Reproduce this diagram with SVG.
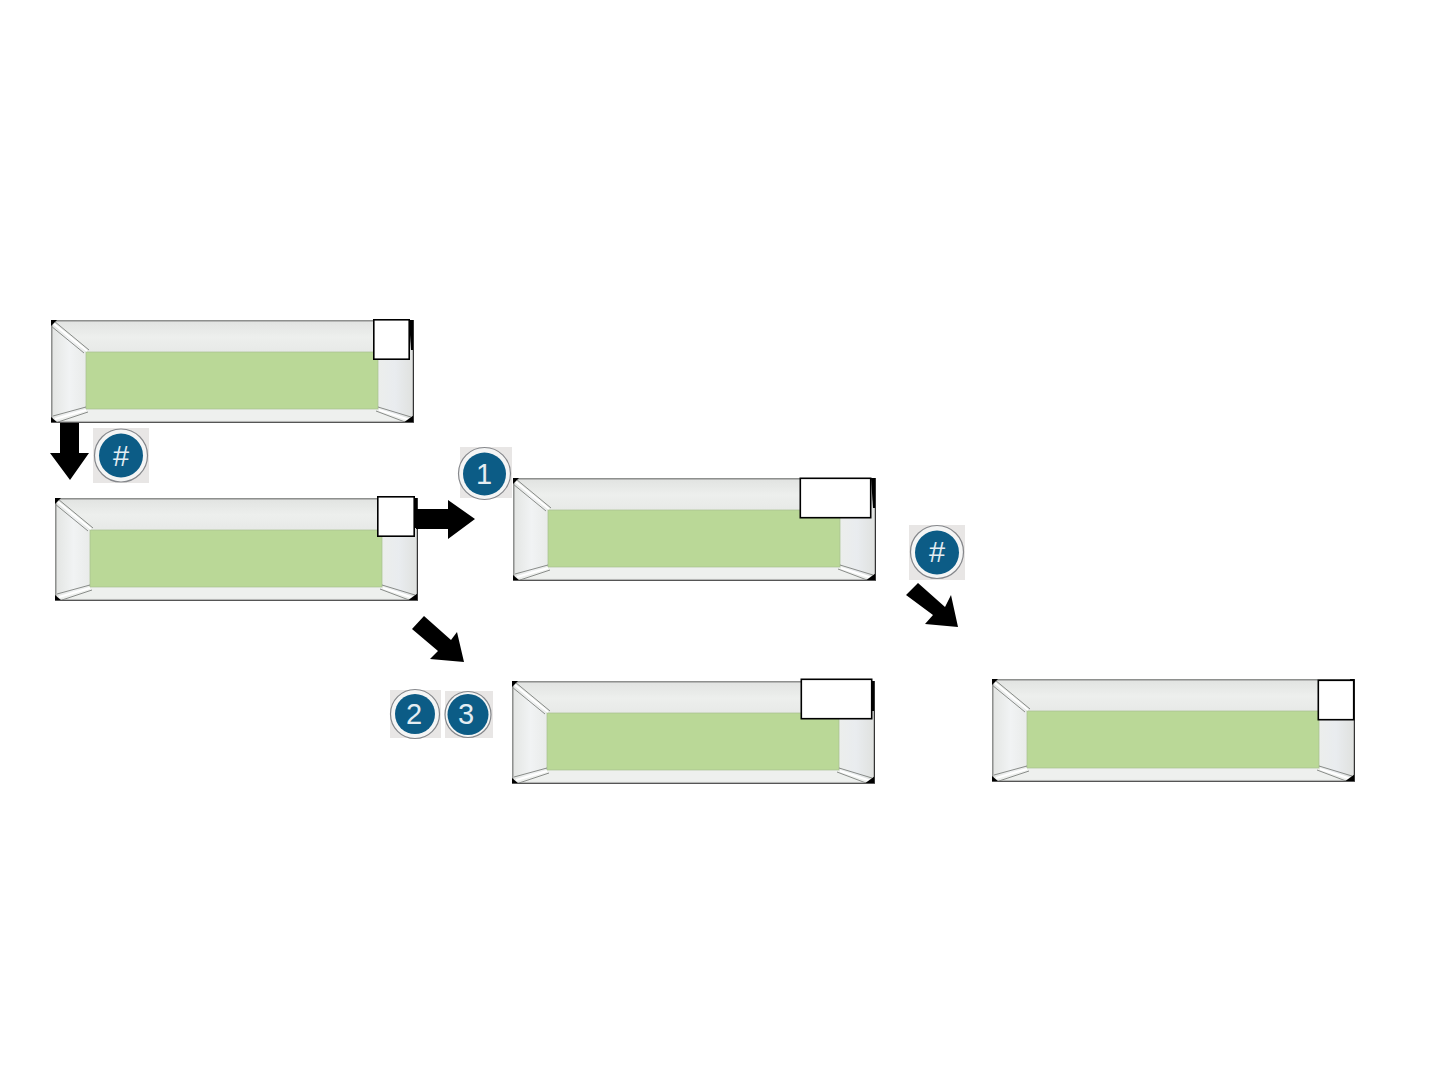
<svg xmlns="http://www.w3.org/2000/svg" width="1440" height="1080" viewBox="0 0 1440 1080">
<style>
.bevel{fill:#eaecea}
.green{fill:#bad897;stroke:#a6bf8f;stroke-width:.7}
.edge{fill:none;stroke:#8a8c8a;stroke-width:1.5}
.mitre{fill:none;stroke:#6f726f;stroke-width:.8}
.mitrew{fill:none;stroke:#fff;stroke-width:2}
.corner{fill:#000}
.box{fill:#fff;stroke:#000;stroke-width:1.6}
.arrow{fill:#000}
.badgebg{fill:#e8e6e5}
.ring{fill:#f4f5f5;stroke:#85878b;stroke-width:1.2}
.disc{fill:#0c5c86}
.num{fill:#e4edf2;font-family:"Liberation Sans",Arial,sans-serif;font-size:29px;text-anchor:middle}
</style>
<defs>
<linearGradient id="topg" x1="0" y1="0" x2="0" y2="1"><stop offset="0" stop-color="#e2e4e2"/><stop offset=".5" stop-color="#edefed"/><stop offset="1" stop-color="#e7e9e7"/></linearGradient>
<linearGradient id="leftg" x1="0" y1="0" x2="1" y2="0"><stop offset="0" stop-color="#e4e6e4"/><stop offset=".5" stop-color="#f1f3f4"/><stop offset="1" stop-color="#e9ebea"/></linearGradient>
<linearGradient id="rightg" x1="0" y1="0" x2="1" y2="0"><stop offset="0" stop-color="#eceeec"/><stop offset=".5" stop-color="#e9ecef"/><stop offset="1" stop-color="#e0e2e0"/></linearGradient>
<filter id="soft" x="-2%" y="-5%" width="104%" height="110%"><feGaussianBlur stdDeviation=".55"/></filter>
<g id="panel">
<g filter="url(#soft)">
<rect class="bevel" x="0" y="0" width="363" height="103"/>
<polygon fill="url(#leftg)" points="2,2 35,32 35,89 2,100"/>
<polygon fill="url(#rightg)" points="361,2 327,32 327,89 361,100"/>
<polygon fill="url(#topg)" points="2,2 361,2 327,32 35,32"/>
<polygon fill="#eef0ee" points="2,100 35,89 327,89 361,100"/>
<rect class="green" x="35" y="32" width="292" height="57"/>
<path class="mitrew" d="M3,4 L36,31 M4,99 L35,90 M328,90 L359,100"/>
<path class="mitre" d="M3,1 L38,30 M0,6 L33,33 M2,96 L35,87 M7,102 L37,92 M327,87 L360,97 M325,91 L354,102"/>
<rect class="edge" x="0.800" y="0.800" width="361.400" height="101.400"/>
</g>
<polygon class="corner" points="0,0 6,0 0,6"/>
<polygon class="corner" points="0,103 0,97 7,103"/>
<polygon class="corner" points="363,103 352,103 363,95"/>
<polygon class="corner" points="363,0 363,30 360,30 358,0"/>
<rect x="362" y="0" width="1" height="103" fill="#333"/>
<rect x="0" y="102" width="363" height="1" fill="#555"/>
</g>
</defs>

<g id="node-1"><use href="#panel" x="51" y="320"/><rect class="box" x="373.800" y="319.800" width="35.400" height="39.400"/></g>
<g id="node-2"><use href="#panel" x="55" y="498"/><rect class="box" x="377.800" y="496.800" width="36.400" height="39.400"/></g>
<g id="node-3"><use href="#panel" x="513" y="478"/><rect class="box" x="800.300" y="478.300" width="70.400" height="39.400"/></g>
<g id="node-4"><use href="#panel" x="512" y="681"/><rect class="box" x="801.300" y="679.300" width="70.400" height="39.400"/></g>
<g id="node-5"><use href="#panel" x="992" y="679"/><rect class="box" x="1318.300" y="680.300" width="35.400" height="39.400"/></g>

<g id="connectors">
<polygon class="arrow" points="60,423 79,423 79,453 89,453 70,480 50,453 60,453"/>
<polygon class="arrow" points="416,509 448,509 448,500 475,519 448,539 448,529 416,529"/>
<polygon class="arrow" points="424,616 451,640 457,632 464,662 430,659 438,651 412,629"/>
<polygon class="arrow" points="918,583 945,607 951,595 958,627 925,624 933,615 906,595"/>
</g>

<g id="badge-hash-1"><rect class="badgebg" x="93" y="428" width="56" height="55"/><circle class="ring" cx="121" cy="455.500" r="26.500"/><circle class="disc" cx="121" cy="455.500" r="22"/><text class="num" x="121" y="465.500">#</text></g>
<g id="badge-one"><rect class="badgebg" x="460" y="447" width="52" height="51"/><circle class="ring" cx="484.500" cy="473.500" r="26"/><circle class="disc" cx="484.500" cy="474" r="21.500"/><text class="num" x="484" y="484">1</text></g>
<g id="badge-two"><rect class="badgebg" x="390" y="690" width="51" height="48"/><circle class="ring" cx="415" cy="714" r="24.500"/><circle class="disc" cx="415" cy="714" r="20"/><text class="num" x="414" y="724">2</text></g>
<g id="badge-three"><rect class="badgebg" x="445" y="691" width="48" height="47"/><circle class="ring" cx="468" cy="714.500" r="23"/><circle class="disc" cx="468" cy="714.500" r="20.500"/><text class="num" x="466" y="724">3</text></g>
<g id="badge-hash-2"><rect class="badgebg" x="909" y="525" width="56" height="55"/><circle class="ring" cx="937" cy="552" r="26.500"/><circle class="disc" cx="937" cy="552.500" r="22"/><text class="num" x="937" y="562">#</text></g>
</svg>
